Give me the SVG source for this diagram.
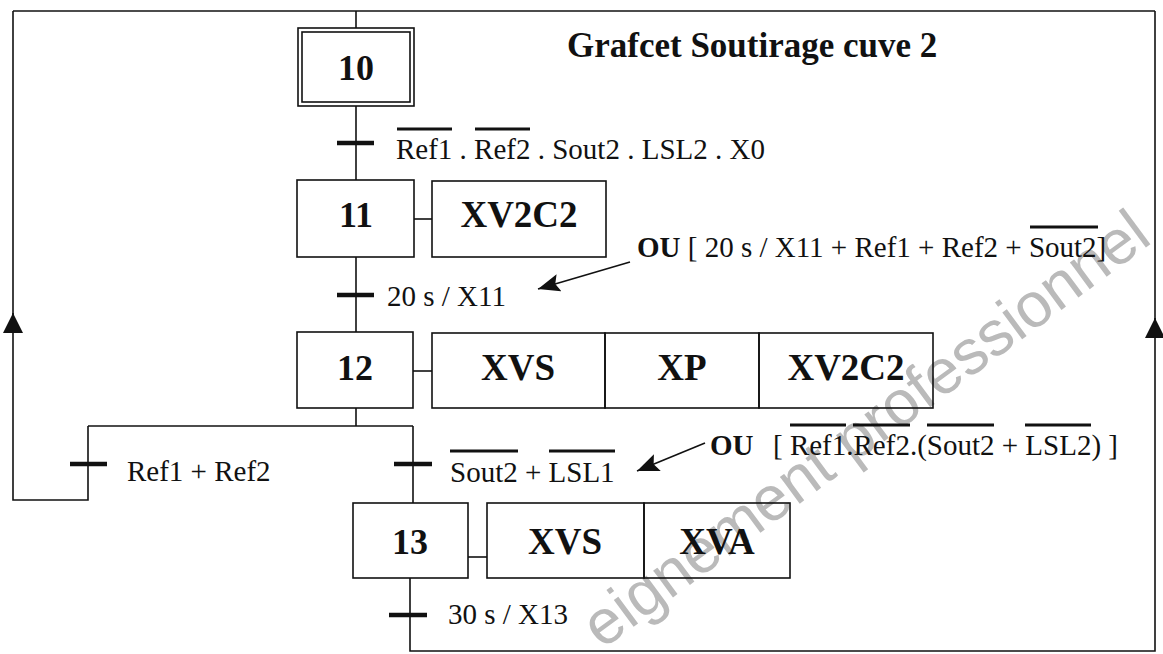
<svg xmlns="http://www.w3.org/2000/svg" width="1163" height="654" viewBox="0 0 1163 654">
<style>
  .ln{fill:none;stroke:#111;stroke-width:1.6}
  .box{fill:none;stroke:#111;stroke-width:1.6}
  .bar{stroke:#111;stroke-width:4.5}
  .ov{stroke:#111;stroke-width:3.2}
  .num{font-family:"Liberation Serif","Times New Roman",serif;font-weight:bold;font-size:36px;text-anchor:middle;fill:#111}
  .act{font-family:"Liberation Serif","Times New Roman",serif;font-weight:bold;font-size:37px;text-anchor:middle;fill:#111}
  .cond{font-family:"Liberation Serif","Times New Roman",serif;font-size:29px;fill:#111}
  .title{font-family:"Liberation Serif","Times New Roman",serif;font-weight:bold;font-size:35px;fill:#111}
  .wm{font-family:"Liberation Sans",Arial,sans-serif;font-size:63px;fill:#bababa}
</style>
<defs>
  <marker id="ah" viewBox="0 0 22 18" markerWidth="22" markerHeight="18" refX="22" refY="9" orient="auto" markerUnits="userSpaceOnUse">
    <path d="M0,0 L22,9 L0,18 L4,9 z" fill="#111"/>
  </marker>
  <marker id="up" viewBox="0 0 20 20" markerWidth="20" markerHeight="20" refX="20" refY="10" orient="auto" markerUnits="userSpaceOnUse">
    <path d="M0,0 L20,10 L0,20 z" fill="#111"/>
  </marker>
</defs>
<rect width="1163" height="654" fill="#fff"/>

<text class="wm" x="602" y="650" transform="rotate(-36.5 602 650)">eignement professionnel</text>

<text class="title" x="567" y="57">Grafcet Soutirage cuve 2</text>

<g id="connectors">
  <path class="ln" d="M13,11 H1155"/>
  <path class="ln" d="M356,11 V28"/>
  <path class="ln" d="M356,106 V180"/>
  <path class="ln" d="M356,257 V332"/>
  <path class="ln" d="M356,408 V426"/>
  <path class="ln" d="M88,426 H413"/>
  <path class="ln" d="M413,426 V503"/>
  <path class="ln" d="M88,426 V500 H13 V313" marker-end="url(#up)"/>
  <path class="ln" d="M13,320 V11"/>
  <path class="ln" d="M410,578 V651 H1155 V318" marker-end="url(#up)"/>
  <path class="ln" d="M1155,325 V11"/>
  <path class="ln" d="M414,219 H432"/>
  <path class="ln" d="M413,371 H432"/>
  <path class="ln" d="M468,557 H487"/>
  <path class="ln" d="M630,262 L538,289" marker-end="url(#ah)"/>
  <path class="ln" d="M705,443 L637,471" marker-end="url(#ah)"/>
</g>

<g id="step10">
  <rect class="box" x="298" y="28" width="116" height="78"/>
  <rect class="box" x="302" y="32" width="108" height="70"/>
  <text class="num" x="356" y="80">10</text>
</g>

<g id="t10-11">
  <line class="bar" x1="337" y1="143" x2="374" y2="143"/>
  <text class="cond" x="396" y="159">Ref1 . Ref2 . Sout2 . LSL2 . X0</text>
  <line class="ov" x1="397" y1="129" x2="452" y2="129"/>
  <line class="ov" x1="475" y1="129" x2="530" y2="129"/>
</g>

<g id="step11">
  <rect class="box" x="297" y="180" width="117" height="77"/>
  <text class="num" x="356" y="227">11</text>
</g>
<g id="action11">
  <rect class="box" x="432" y="181" width="174" height="76"/>
  <text class="act" x="519" y="227">XV2C2</text>
</g>

<g id="t11-12">
  <line class="bar" x1="337" y1="295" x2="374" y2="295"/>
  <text class="cond" x="387" y="306">20 s / X11</text>
</g>

<g id="note1">
  <text class="cond" x="637" y="257"><tspan font-weight="bold">OU</tspan> [ 20 s / X11 + Ref1 + Ref2 + Sout2]</text>
  <line class="ov" x1="1030" y1="227" x2="1098" y2="227"/>
</g>

<g id="step12">
  <rect class="box" x="297" y="332" width="116" height="76"/>
  <text class="num" x="355" y="380">12</text>
</g>
<g id="action12">
  <rect class="box" x="432" y="333" width="173" height="75"/>
  <rect class="box" x="605" y="333" width="154" height="75"/>
  <rect class="box" x="759" y="333" width="174" height="75"/>
  <text class="act" x="518" y="380">XVS</text>
  <text class="act" x="682" y="380">XP</text>
  <text class="act" x="846" y="380">XV2C2</text>
</g>

<g id="t12-10">
  <line class="bar" x1="70" y1="464" x2="107" y2="464"/>
  <text class="cond" x="127" y="481">Ref1 + Ref2</text>
</g>

<g id="t12-13">
  <line class="bar" x1="394" y1="464" x2="432" y2="464"/>
  <text class="cond" x="450" y="482">Sout2 + LSL1</text>
  <line class="ov" x1="450" y1="451" x2="518" y2="451"/>
  <line class="ov" x1="549" y1="451" x2="615" y2="451"/>
</g>

<g id="note2">
  <text class="cond" x="710" y="455"><tspan font-weight="bold">OU</tspan></text>
  <text class="cond" x="773" y="455">[ Ref1.Ref2.(Sout2 + LSL2) ]</text>
  <line class="ov" x1="790" y1="425" x2="846" y2="425"/>
  <line class="ov" x1="853" y1="425" x2="910" y2="425"/>
  <line class="ov" x1="927" y1="425" x2="994" y2="425"/>
  <line class="ov" x1="1025" y1="425" x2="1091" y2="425"/>
</g>

<g id="step13">
  <rect class="box" x="353" y="503" width="115" height="75"/>
  <text class="num" x="410" y="554">13</text>
</g>
<g id="action13">
  <rect class="box" x="487" y="503" width="157" height="75"/>
  <rect class="box" x="644" y="503" width="146" height="75"/>
  <text class="act" x="565" y="554">XVS</text>
  <text class="act" x="717" y="554">XVA</text>
</g>

<g id="t13-10">
  <line class="bar" x1="389" y1="615" x2="427" y2="615"/>
  <text class="cond" x="448" y="624">30 s / X13</text>
</g>
</svg>
